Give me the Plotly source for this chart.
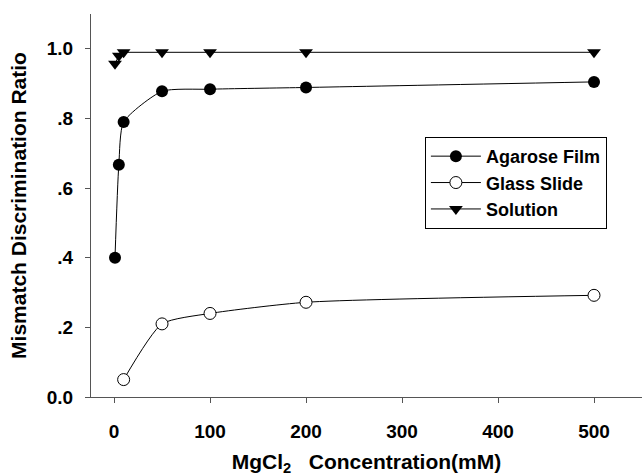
import plotly.graph_objects as go

agarose_x = [1, 5, 10, 50, 100, 200, 500]
agarose_y = [0.40, 0.667, 0.79, 0.878, 0.884, 0.889, 0.905]
glass_x = [10, 50, 100, 200, 500]
glass_y = [0.05, 0.21, 0.24, 0.272, 0.292]
solution_x = [1, 5, 10, 50, 100, 200, 500]
solution_y = [0.957, 0.98, 0.99, 0.99, 0.99, 0.99, 0.99]

y_ticks = [0.0, 0.2, 0.4, 0.6, 0.8, 1.0]
y_ticktext = ["0.0", ".2", ".4", ".6", ".8", "1.0"]
x_ticks = [0, 100, 200, 300, 400, 500]

font_family = "Arial, Liberation Sans, sans-serif"

fig = go.Figure()
fig.add_trace(go.Scatter(
    x=agarose_x, y=agarose_y, name="Agarose Film", mode="lines+markers",
    line=dict(color="black", width=1, shape="spline", smoothing=0.6),
    marker=dict(symbol="circle", size=12, color="black"),
))
fig.add_trace(go.Scatter(
    x=glass_x, y=glass_y, name="Glass Slide", mode="lines+markers",
    line=dict(color="black", width=1, shape="spline", smoothing=0.6),
    marker=dict(symbol="circle", size=12, color="white", line=dict(color="black", width=1)),
))
fig.add_trace(go.Scatter(
    x=solution_x, y=solution_y, name="Solution", mode="lines+markers",
    line=dict(color="black", width=1),
    marker=dict(symbol="triangle-down", size=12, color="black"),
))

fig.update_layout(
    width=642, height=476,
    margin=dict(l=91, r=0, t=14, b=79),
    paper_bgcolor="white", plot_bgcolor="white",
    font=dict(family=font_family, size=19, color="black", weight="bold"),
    showlegend=True,
    legend=dict(
        x=0.606, y=0.679, xanchor="left", yanchor="top",
        bordercolor="black", borderwidth=1, bgcolor="white",
        font=dict(size=18, weight="bold"),
        itemwidth=50,
        tracegroupgap=0,
    ),
    xaxis=dict(
        range=[-24, 550], tickvals=x_ticks, ticks="outside", ticklen=5,
        tickcolor="#555", showline=True, linecolor="#555", linewidth=1,
        showgrid=False, zeroline=False, ticklabelstandoff=12,
        title=dict(text="MgCl<sub>2</sub>   Concentration(mM)", standoff=18,
                   font=dict(size=21, weight="bold")),
        tickfont=dict(size=19, weight="bold"),
    ),
    yaxis=dict(
        range=[0, 1.1], tickvals=y_ticks, ticktext=y_ticktext, ticks="outside",
        ticklen=5, tickcolor="#555", showline=True, linecolor="#555", linewidth=1,
        showgrid=False, zeroline=False, ticklabelstandoff=8,
        title=dict(text="Mismatch Discrimination Ratio", standoff=14,
                   font=dict(size=21, weight="bold")),
        tickfont=dict(size=19, weight="bold"),
    ),
)

fig.write_html("out.html")
